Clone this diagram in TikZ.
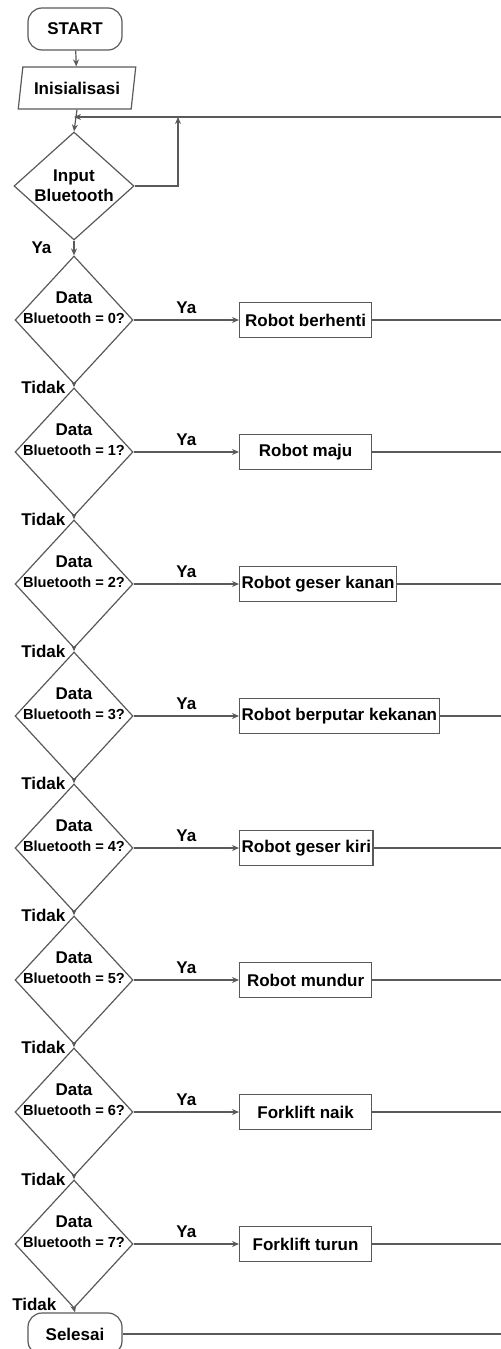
\documentclass[tikz,border=0pt]{standalone}
\usepackage{fontspec}
\setmainfont{Liberation Sans}
\usetikzlibrary{shapes.geometric,arrows.meta,positioning}
\newcommand{\txtsize}{\fontsize{8.5}{10}\selectfont\bfseries}
\newcommand{\btsize}{\fontsize{7.3}{9}\selectfont\bfseries}

\begin{document}
\begin{tikzpicture}[x=0.5pt, y=-0.5pt,
    term/.style={rectangle, draw=black!65, line width=0.6pt, rounded corners=7pt,
                 minimum width=47pt, minimum height=21pt, font=\txtsize},
    io/.style={trapezium, trapezium left angle=77, trapezium right angle=103,
               trapezium stretches=true, draw=black!65, line width=0.6pt,
               minimum width=59pt, minimum height=21pt, inner sep=1pt, font=\txtsize},
    dec/.style={diamond, draw=black!65, line width=0.6pt, minimum width=59pt,
                minimum height=64pt, inner sep=0pt},
    dtxt/.style={align=center, inner sep=0pt, font=\txtsize},
    proc/.style={rectangle, draw=black!65, line width=0.6pt, anchor=west,
                 minimum width=66pt, minimum height=17.5pt, inner xsep=1pt, font=\txtsize},
    lbl/.style={font=\txtsize, text=black, inner sep=1pt},
    arr/.style={-{Stealth[length=3.5pt, width=3pt]}, black!65, line width=0.6pt},
    line/.style={black!65, line width=0.6pt}
]
    \useasboundingbox (0,0) rectangle (501,1349);

    % start, init, input
    \node[term] (start) at (75,29) {START};
    \node[io] (init) at (77,88) {Inisialisasi};
    \node[dec, minimum width=60pt, minimum height=54pt] (inp) at (74,186) {};
    \node[dtxt] (inpt) at (inp.center) {Input\\Bluetooth};

    \coordinate (back) at (501,117);
    \coordinate (jn) at (74,117);
    \coordinate (lp) at (178,117);

    \draw[arr] (start) -- (init);
    \draw[arr] (init.south) -- (inp.north);
    \draw[arr] (back) -- (jn);
    \draw[arr] (inp.east) -| (lp);

    % decisions and actions
    \foreach \n/\act in {0/Robot berhenti, 1/Robot maju, 2/Robot geser kanan,
                         3/Robot berputar kekanan, 4/Robot geser kiri, 5/Robot mundur,
                         6/Forklift naik, 7/Forklift turun}{
        \pgfmathsetmacro{\yy}{320+132*\n}
        \node[dec] (d\n) at (74,\yy) {};
        \node[dtxt, yshift=6pt] (t\n) at (d\n.center) {Data\\{\btsize Bluetooth = \n?}};
        \node[proc] (p\n) at (239,\yy) {\act};
        \coordinate (r\n) at (501,\yy);
        \draw[arr] (d\n.east) -- node[lbl, above=2pt] (ya\n) {Ya} (p\n.west);
        \draw[line] (p\n.east) -- (r\n);
    }

    \draw[arr] (inp.south) -- (d0.north) node[lbl, anchor=east, xshift=-10pt, yshift=4pt] (ya) {Ya};
    \foreach \a/\b in {0/1,1/2,2/3,3/4,4/5,5/6,6/7}
        \draw[arr] (d\a.south) -- (d\b.north) node[lbl, anchor=east, xshift=-3pt] (td\b) {Tidak};

    % end
    \node[term] (stop) at (75,1334) {Selesai};
    \coordinate (re) at (501,1334);
    \draw[arr] (d7.south) -- (stop.north) node[lbl, anchor=east, xshift=-8pt, yshift=4pt] (tde) {Tidak};
    \draw[line] (stop.east) -- (re);
\end{tikzpicture}
\end{document}
